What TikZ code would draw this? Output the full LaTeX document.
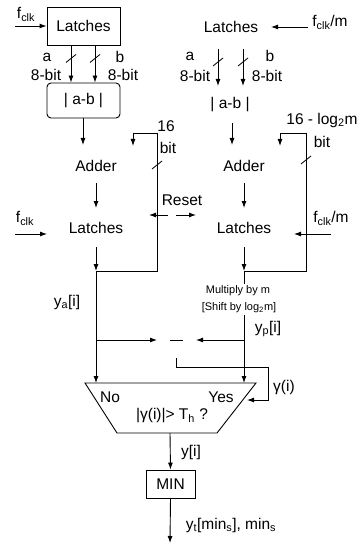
\documentclass[tikz,border=0pt]{standalone}
\usepackage{fontspec}
\setmainfont{Liberation Sans}
\usetikzlibrary{arrows.meta,calc}
\begin{document}
\begin{tikzpicture}[x=1pt,y=-1pt,line width=0.9pt,
  txt/.style={inner sep=0pt,font=\fontsize{15.5}{17}\selectfont},
  sm/.style={inner sep=0pt,font=\fontsize{11}{13}\selectfont},
  arr/.style={-{Latex[length=7pt,width=5pt]}},
  blk/.style={draw,inner sep=0pt,font=\fontsize{15.5}{17}\selectfont},
  slash/.style={line width=0.8pt}]
\useasboundingbox (0,0) rectangle (363,545);
% ---------- left column ----------
\node[blk,minimum width=73pt,minimum height=38pt] (L1) at (83.5,26) {Latches};
\node[blk,rounded corners=4pt,minimum width=73pt,minimum height=35pt] (D1) at (83.5,100.5) {| a-b |};
\node[txt] (fc1) at (26,14) {f\textsubscript{clk}};
\coordinate (fin1) at (15,26);
\draw[arr] (fin1) -- (L1.west);
\draw[arr] ([xshift=-12.5pt]L1.south) -- ([xshift=-12.5pt]D1.north);
\draw[arr] ([xshift=11.5pt]L1.south) -- ([xshift=11.5pt]D1.north);
\draw[slash] ($(L1.south)+(-17.5,17)$) -- ++(10,-8);
\draw[slash] ($(L1.south)+(6.5,17)$) -- ++(10,-8);
\node[txt] (la1) at (47,57) {a};
\node[txt] (lb1) at (120,57) {b};
\node[txt] (w1a) at (46,75) {8-bit};
\node[txt] (w1b) at (123,75) {8-bit};
\coordinate (a1in) at (83,145);
\draw[arr] (D1.south -| a1in) -- (a1in);
\node[txt] (A1) at (96,166) {Adder};
\coordinate (a1o) at (96,183);
\coordinate (l1i) at (96,208);
\draw[arr] (a1o) -- (l1i);
\node[txt] (Lt1) at (96,228) {Latches};
\node[txt] (fc2) at (25,218) {f\textsubscript{clk}};
\coordinate (fin2) at (15,234);
\coordinate (fin2e) at (47,234);
\draw[arr] (fin2) -- (fin2e);
\coordinate (l1o) at (96,247);
\coordinate (j1) at (96,271);
\draw[arr] (l1o) -- (j1);
\coordinate (fb1a) at (157,271);
\coordinate (fb1b) at (157,133);
\coordinate (fb1c) at (133,133);
\coordinate (fb1d) at (133,146);
\draw[arr] (j1) -- (fb1a) -- (fb1b) -- (fb1c) -- (fb1d);
\draw[slash] ($(fb1b)+(-5,36)$) -- ++(10,-8);
\node[txt] (n16) at (166,126) {16};
\node[txt] (bit1) at (168,148) {bit};
% reset
\node[txt] (rst) at (182,200) {Reset};
\coordinate (r0) at (168,215);
\coordinate (r1) at (149,215);
\coordinate (r2) at (176,215);
\coordinate (r3) at (196,215);
\draw[arr] (r0) -- (r1);
\draw[arr] (r2) -- (r3);
% ---------- right column ----------
\node[txt] (L2) at (231,27) {Latches};
\node[txt] (fm1) at (330,22) {f\textsubscript{clk}/m};
\coordinate (fm1s) at (308,27);
\coordinate (fm1e) at (271,27);
\draw[arr] (fm1s) -- (fm1e);
\coordinate (ra) at (218,49);
\coordinate (rae) at (218,86);
\coordinate (rb) at (243,49);
\coordinate (rbe) at (243,86);
\draw[arr] (ra) -- (rae);
\draw[arr] (rb) -- (rbe);
\draw[slash] ($(ra)+(-5,17)$) -- ++(10,-8);
\draw[slash] ($(rb)+(-5,17)$) -- ++(10,-8);
\node[txt] (la2) at (190,56) {a};
\node[txt] (lb2) at (270,56) {b};
\node[txt] (w2a) at (195,76) {8-bit};
\node[txt] (w2b) at (267,76) {8-bit};
\node[txt] (D2) at (230,105) {| a-b |};
\coordinate (d2o) at (232,123);
\coordinate (a2in) at (232,145);
\draw[arr] (d2o) -- (a2in);
\node[txt] (A2) at (244,166) {Adder};
\coordinate (a2o) at (244,183);
\coordinate (l2i) at (244,208);
\draw[arr] (a2o) -- (l2i);
\node[txt] (Lt2) at (244,228) {Latches};
\node[txt] (fm2) at (331,218) {f\textsubscript{clk}/m};
\coordinate (fm2s) at (331,234);
\coordinate (fm2e) at (294,234);
\draw[arr] (fm2s) -- (fm2e);
\coordinate (l2o) at (244,247);
\coordinate (j2) at (244,271);
\draw[arr] (l2o) -- (j2);
\coordinate (fb2a) at (306,271);
\coordinate (fb2b) at (306,133);
\coordinate (fb2c) at (280,133);
\coordinate (fb2d) at (280,146);
\draw[arr] (j2) -- (fb2a) -- (fb2b) -- (fb2c) -- (fb2d);
\draw[slash] ($(fb2b)+(-5,31)$) -- ++(10,-8);
\node[txt] (n16b) at (322,120) {16 - log\textsubscript{2}m};
\node[txt] (bit2) at (322,142) {bit};
\coordinate (m0) at (244,284);
\draw (j2) -- (m0);
\node[sm] (mul1) at (238,291) {Multiply by m};
\node[sm] (mul2) at (239,308) {[Shift by log\textsubscript{2}m]};
\coordinate (m1) at (244,315);
% ---------- comparison ----------
\node[txt] (ya) at (67,302) {y\textsubscript{a}[i]};
\node[txt] (yp) at (268,329) {y\textsubscript{p}[i]};
\coordinate (TL) at (85,383);
\coordinate (TR) at (256,383);
\coordinate (BR) at (217,433);
\coordinate (BL) at (117,433);
\draw (TL) -- (TR) -- (BR) -- (BL) -- cycle;
\coordinate (trapL) at (96,383);
\coordinate (trapR) at (244,383);
\draw[arr] (j1) -- (trapL);
\draw[arr] (m1) -- (trapR);
\coordinate (hL) at (96,340);
\coordinate (hR) at (244,340);
\coordinate (s1) at (170,340);
\coordinate (s2) at (183,340);
\draw[arr] (hL) -- (157,340);
\draw[arr] (hR) -- (196,340);
\draw (s1) -- (s2);
\coordinate (g0) at (176,358);
\coordinate (g1) at (176,367);
\coordinate (g2) at (268,367);
\coordinate (g3) at (268,400);
\coordinate (g4) at (247,400);
\draw[arr] (g0) -- (g1) -- (g2) -- (g3) -- (g4);
\node[txt] (gam) at (284,387) {γ(i)};
\node[txt] (no) at (110,397) {No};
\node[txt] (yes) at (221,397) {Yes};
\node[txt] (cond) at (172,416) {|γ(i)|> T\textsubscript{h} ?};
\node[blk,minimum width=49pt,minimum height=28pt] (MIN) at (170.5,484) {MIN};
\coordinate (tout) at (170,433);
\draw[arr] (tout) -- (MIN.north);
\node[txt] (yi) at (191,452) {y[i]};
\coordinate (fout) at (170,543);
\draw[arr] (MIN.south) -- (fout);
\node[txt] (yt) at (231,525) {y\textsubscript{t}[min\textsubscript{s}], min\textsubscript{s}};
\end{tikzpicture}
\end{document}
